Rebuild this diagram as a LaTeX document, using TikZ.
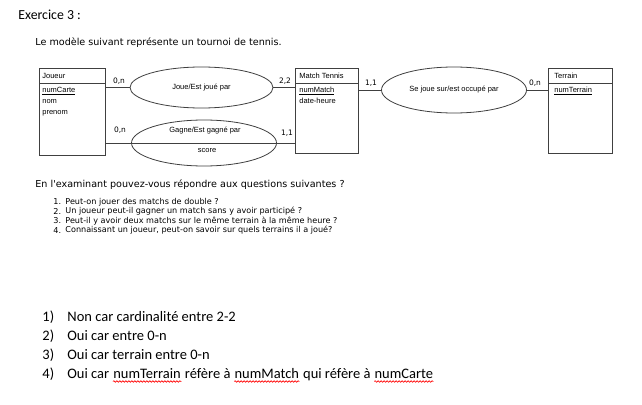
\documentclass[tikz,border=0pt]{standalone}
\usepackage{fontspec}
\setmainfont{Carlito}
\newfontfamily\tahoma{DejaVu Sans}
\newfontfamily\mssans{Liberation Sans}
\usetikzlibrary{shapes.geometric,positioning,calc,decorations.pathmorphing}
\tikzset{
    entity/.style={draw, rectangle, anchor=north west, inner sep=0pt},
    assoc/.style={draw, ellipse, inner sep=0pt},
    ertext/.style={font=\mssans\fontsize{7.5}{9}\selectfont, inner sep=0pt, anchor=west},
    card/.style={font=\tahoma\fontsize{7.5}{9}\selectfont, inner sep=0pt},
    title/.style={font=\fontsize{13.8}{16}\selectfont, inner sep=0pt, anchor=west},
    intro/.style={font=\tahoma\fontsize{9.6}{11}\selectfont, inner sep=0pt, anchor=west},
    question/.style={font=\tahoma\fontsize{8.1}{10}\selectfont, inner sep=0pt, anchor=west},
    answer/.style={font=\fontsize{14.5}{17}\selectfont, inner sep=0pt, anchor=west, text height=10pt, text depth=3pt},
    spellwave/.style={draw=red, line width=0.6pt, decorate, decoration={snake, segment length=3pt, amplitude=0.8pt}}
}
\begin{document}
\begin{tikzpicture}[x=1pt, y=-1pt, every path/.style={line width=0.8pt, draw=black!75}]
    \useasboundingbox[fill=white, draw=none] (0,0) rectangle (642,404);
    % titles
    \node[title] (exo) at (18,15) {Exercice 3 :};
    \node[intro] (modele) at (35,43) {Le modèle suivant représente un tournoi de tennis.};

    % entities
    \node[entity, minimum width=66pt, minimum height=86.5pt] (joueur) at (39,68) {};
    \node[entity, minimum width=63pt, minimum height=85pt] (match) at (295,68) {};
    \node[entity, minimum width=64pt, minimum height=85pt] (terrain) at (548,68) {};
    \draw ($(joueur.north west)+(0,15.5)$) -- ($(joueur.north east)+(0,15.5)$);
    \draw ($(match.north west)+(0,15.5)$) -- ($(match.north east)+(0,15.5)$);
    \draw ($(terrain.north west)+(0,15.5)$) -- ($(terrain.north east)+(0,15.5)$);
    \node[ertext] (joueurT) at ($(joueur.north west)+(3,7.5)$) {Joueur};
    \node[ertext] (numCarte) at ($(joueur.north west)+(3,23)$) {\underline{numCarte}};
    \node[ertext] (nom) at ($(joueur.north west)+(3,34)$) {nom};
    \node[ertext] (prenom) at ($(joueur.north west)+(3,45)$) {prenom};
    \node[ertext] (matchT) at ($(match.north west)+(4,7.5)$) {Match Tennis};
    \node[ertext] (numMatch) at ($(match.north west)+(4,23)$) {\underline{numMatch}};
    \node[ertext] (dateHeure) at ($(match.north west)+(4,33)$) {date-heure};
    \node[ertext] (terrainT) at ($(terrain.north west)+(6,7.5)$) {Terrain};
    \node[ertext] (numTerrain) at ($(terrain.north west)+(6,23)$) {\underline{numTerrain}};

    % associations
    \node[assoc, minimum width=143pt, minimum height=41pt, font=\mssans\fontsize{7.5}{9}\selectfont] (joue) at (201.5,87.5) {\raisebox{-3pt}{Joue/Est joué par}};
    \node[assoc, minimum width=145pt, minimum height=46pt] (gagne) at (204,143) {};
    \node[ertext, anchor=center] (gagneT) at (205,131) {Gagne/Est gagné par};
    \node[ertext, anchor=center] (score) at (207,151) {score};
    \node[assoc, minimum width=145pt, minimum height=46pt, font=\mssans\fontsize{7.5}{9}\selectfont] (sejoue) at (454,90) {\raisebox{-2pt}{Se joue sur/est occupé par}};

    % links
    \draw (joueur.east |- joue.west) -- (joue.west);
    \draw (joue.east) -- (match.west |- joue.east);
    \draw (joueur.east |- gagne.center) -- (match.west |- gagne.center);
    \draw (match.east |- sejoue.west) -- (sejoue.west);
    \draw (sejoue.east) -- (terrain.west |- sejoue.east);

    % cardinalities
    \node[card] (c1) at (119,81) {0,n};
    \node[card] (c2) at (285,81) {2,2};
    \node[card] (c3) at (120,130) {0,n};
    \node[card] (c4) at (287,133) {1,1};
    \node[card] (c5) at (371,83) {1,1};
    \node[card] (c6) at (535,83) {0,n};

    % questions
    \node[intro] (examen) at (35,185) {En l'examinant pouvez-vous répondre aux questions suivantes ?};
    \node[question] (qn1) at (53,202) {1.};
    \node[question] (q1) at (65,202) {Peut-on jouer des matchs de double ?};
    \node[question] (qn2) at (53,211.5) {2.};
    \node[question] (q2) at (65,211.5) {Un joueur peut-il gagner un match sans y avoir participé ?};
    \node[question] (qn3) at (53,221) {3.};
    \node[question] (q3) at (65,221) {Peut-il y avoir deux matchs sur le même terrain à la même heure ?};
    \node[question] (qn4) at (53,230.5) {4.};
    \node[question] (q4) at (65,230.5) {Connaissant un joueur, peut-on savoir sur quels terrains il a joué?};

    % answers
    \node[answer] (an1) at (42,318) {1)};
    \node[answer] (a1) at (67,318) {Non car cardinalité entre 2-2};
    \node[answer] (an2) at (42,337) {2)};
    \node[answer] (a2) at (67,337) {Oui car entre 0-n};
    \node[answer] (an3) at (42,356) {3)};
    \node[answer] (a3) at (67,356) {Oui car terrain entre 0-n};
    \node[answer] (an4) at (42,375) {4)};
    \node[answer] (a4a) at (67,375) {Oui car};
    \node[answer, right=3.3pt of a4a] (a4b) {numTerrain};
    \node[answer, right=3.3pt of a4b] (a4c) {réfère à};
    \node[answer, right=3.3pt of a4c] (a4d) {numMatch};
    \node[answer, right=3.3pt of a4d] (a4e) {qui réfère à};
    \node[answer, right=3.3pt of a4e] (a4f) {numCarte};
    \draw[spellwave] ($(a4b.base west)+(0,3)$) -- ($(a4b.base east)+(0,3)$);
    \draw[spellwave] ($(a4d.base west)+(0,3)$) -- ($(a4d.base east)+(0,3)$);
    \draw[spellwave] ($(a4f.base west)+(0,3)$) -- ($(a4f.base east)+(0,3)$);
\end{tikzpicture}
\end{document}
